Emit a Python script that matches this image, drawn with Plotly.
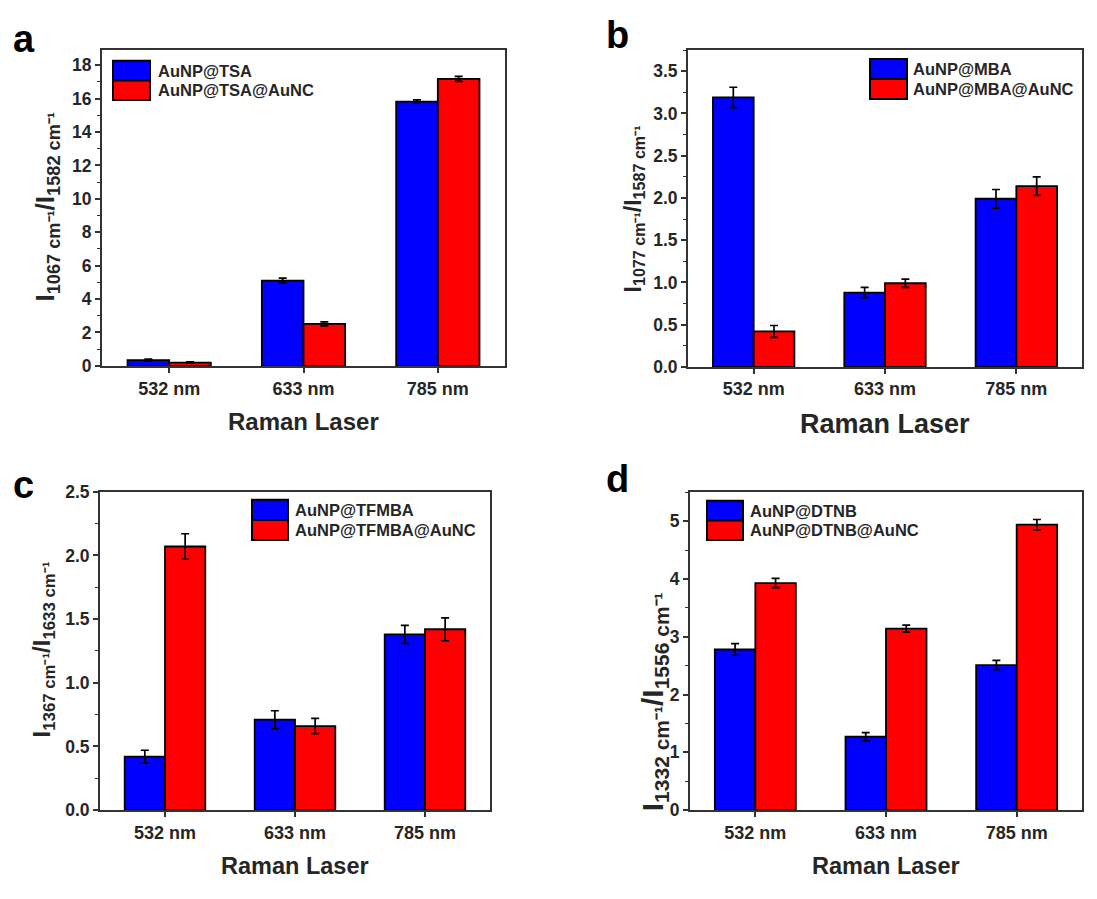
import plotly.graph_objects as go

W, H = 1097, 899

lasers = ["532 nm", "633 nm", "785 nm"]

# Panel a
a_names = ["AuNP@TSA", "AuNP@TSA@AuNC"]
a_blue = [0.35, 5.10, 15.82]
a_blue_err = [0.05, 0.15, 0.10]
a_red = [0.20, 2.52, 17.18]
a_red_err = [0.04, 0.12, 0.15]

# Panel b
b_names = ["AuNP@MBA", "AuNP@MBA@AuNC"]
b_blue = [3.19, 0.88, 1.99]
b_blue_err = [0.12, 0.06, 0.11]
b_red = [0.42, 0.99, 2.14]
b_red_err = [0.07, 0.05, 0.11]

# Panel c
c_names = ["AuNP@TFMBA", "AuNP@TFMBA@AuNC"]
c_blue = [0.42, 0.71, 1.38]
c_blue_err = [0.05, 0.07, 0.07]
c_red = [2.07, 0.66, 1.42]
c_red_err = [0.10, 0.06, 0.09]

# Panel d
d_names = ["AuNP@DTNB", "AuNP@DTNB@AuNC"]
d_blue = [2.78, 1.27, 2.51]
d_blue_err = [0.10, 0.07, 0.08]
d_red = [3.93, 3.14, 4.94]
d_red_err = [0.08, 0.06, 0.09]

y_titles = [
    "I<sub>1067 cm⁻¹</sub>/I<sub>1582 cm⁻¹</sub>",
    "I<sub>1077 cm⁻¹</sub>/I<sub>1587 cm⁻¹</sub>",
    "I<sub>1367 cm⁻¹</sub>/I<sub>1633 cm⁻¹</sub>",
    "I<sub>1332 cm⁻¹</sub>/I<sub>1556 cm⁻¹</sub>",
]
x_title = "Raman Laser"
panel_letters = ["a", "b", "c", "d"]

FONT = "Liberation Sans, Arial, sans-serif"
TXT = "#262626"
AX = "#333333"
BLUE = "#0000FF"
RED = "#FF0000"


def px(x):
    return x / W


def py(y):
    return 1 - y / H


panels = [
    dict(names=a_names, blue=a_blue, be=a_blue_err, red=a_red, re=a_red_err,
         box=(102, 505, 41, 364), yr=[0, 18.9], dt=2, title_fs=24,
         ytc=(47, 202), ytfs=26, xtc=421, letter=(24, 30),
         leg=(113, 150, 52, 72, 92, 156)),
    dict(names=b_names, blue=b_blue, be=b_blue_err, red=b_red, re=b_red_err,
         box=(688, 1082, 41, 365), yr=[0, 3.75], dt=0.5, title_fs=27,
         ytc=(634, 204), ytfs=23, xtc=423, letter=(617, 26),
         leg=(870, 907, 50, 70.5, 91, 911)),
    dict(names=c_names, blue=c_blue, be=c_blue_err, red=c_red, re=c_red_err,
         box=(100, 490, 492.7, 818.3), yr=[0, 2.5], dt=0.5, title_fs=23.5,
         ytc=(43, 654), ytfs=24, xtc=875, letter=(23, 486),
         leg=(252, 288, 501, 521.5, 542, 293)),
    dict(names=d_names, blue=d_blue, be=d_blue_err, red=d_red, re=d_red_err,
         box=(690, 1082, 493.3, 818.3), yr=[0, 5.5], dt=1, title_fs=23.5,
         ytc=(654, 708), ytfs=30, xtc=875, letter=(617, 480),
         leg=(707, 743, 502, 522, 542, 748)),
]

fig = go.Figure()
shapes = []
annotations = []
layout_axes = {}

for i, p in enumerate(panels):
    n = i + 1
    xa = "x" if n == 1 else f"x{n}"
    ya = "y" if n == 1 else f"y{n}"
    x0, x1, y0, y1 = p["box"]
    for vals, errs, col, name in [(p["blue"], p["be"], BLUE, p["names"][0]),
                                  (p["red"], p["re"], RED, p["names"][1])]:
        fig.add_trace(go.Bar(
            x=lasers, y=vals, name=name, xaxis=xa, yaxis=ya,
            marker=dict(color=col, line=dict(color="black", width=1.8)),
            error_y=dict(type="data", array=errs, color="black",
                         thickness=1.7, width=4),
            showlegend=False,
        ))
    xkey = "xaxis" if n == 1 else f"xaxis{n}"
    ykey = "yaxis" if n == 1 else f"yaxis{n}"
    layout_axes[xkey] = dict(
        domain=[px(x0), px(x1)], anchor=ya, type="category",
        range=[-0.5, 2.5], showline=True, linecolor=AX, linewidth=2,
        mirror=True, ticks="outside", ticklen=5, tickwidth=1.5,
        tickcolor=AX, showgrid=False, zeroline=False,
        tickfont=dict(family=FONT, size=18, color=TXT, weight="bold"),
    )
    layout_axes[ykey] = dict(
        domain=[py(y1), py(y0)], anchor=xa, range=p["yr"], dtick=p["dt"],
        tick0=0, showline=True, linecolor=AX, linewidth=2, mirror=True,
        ticks="outside", ticklen=5, tickwidth=1.5, tickcolor=AX,
        showgrid=False, zeroline=False,
        tickformat=".1f" if p["dt"] < 1 else "d",
        minor=dict(ticks="outside", ticklen=3, tickwidth=1.2,
                   tickcolor=AX, dtick=p["dt"] / 2, showgrid=False),
        tickfont=dict(family=FONT, size=17.5, color=TXT, weight="bold"),
    )
    # axis titles
    annotations.append(dict(
        text=y_titles[i], x=px(p["ytc"][0]), y=py(p["ytc"][1]),
        xref="paper", yref="paper", showarrow=False, textangle=-90,
        xanchor="center", yanchor="middle",
        font=dict(family=FONT, size=p["ytfs"], color=TXT, weight="bold"),
    ))
    annotations.append(dict(
        text=x_title, x=px((x0 + x1) / 2), y=py(p["xtc"]),
        xref="paper", yref="paper", showarrow=False,
        xanchor="center", yanchor="middle",
        font=dict(family=FONT, size=p["title_fs"], color=TXT, weight="bold"),
    ))
    annotations.append(dict(
        text=panel_letters[i], x=px(p["letter"][0]), y=py(p["letter"][1]),
        xref="paper", yref="paper", showarrow=False,
        xanchor="center", yanchor="middle",
        font=dict(family=FONT, size=38, color="black", weight="bold"),
    ))
    # legend patches
    lx0, lx1, ly0, ly1, ly2, tx = p["leg"]
    for (ya_, yb_), col, name in [((ly0, ly1), BLUE, p["names"][0]),
                                  ((ly1, ly2), RED, p["names"][1])]:
        shapes.append(dict(
            type="rect", xref="paper", yref="paper",
            x0=px(lx0), x1=px(lx1), y0=py(yb_), y1=py(ya_),
            fillcolor=col, line=dict(color="black", width=2),
        ))
        annotations.append(dict(
            text=name, x=px(tx), y=py((ya_ + yb_) / 2),
            xref="paper", yref="paper", showarrow=False,
            xanchor="left", yanchor="middle",
            font=dict(family=FONT, size=16.5, color=TXT, weight="bold"),
        ))

fig.update_layout(
    width=W, height=H, margin=dict(l=0, r=0, t=0, b=0),
    paper_bgcolor="white", plot_bgcolor="white",
    barmode="group", bargap=0.38, bargroupgap=0,
    showlegend=False, shapes=shapes, annotations=annotations,
    **layout_axes,
)

fig.write_html("out.html")
